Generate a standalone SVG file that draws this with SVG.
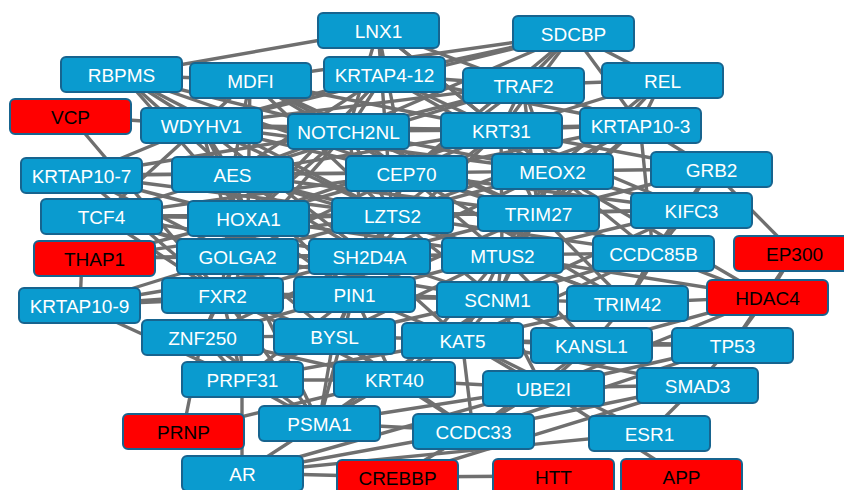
<svg xmlns="http://www.w3.org/2000/svg" width="844" height="490" viewBox="0 0 844 490">
<style>
#edges line{stroke:#6f6f6f;stroke-width:3.4;stroke-linecap:round}
.n rect{fill:#0a9bcf;stroke:#17648f;stroke-width:2}
.r rect{fill:#ff0000;stroke:#17648f;stroke-width:2}
.n text,.r text{font-family:"Liberation Sans",Arial,sans-serif;font-size:19px;text-anchor:middle}
.n text{fill:#ffffff}
.r text{fill:#000000}
</style>
<rect width="844" height="490" fill="#ffffff"/>
<g id="edges">
<line x1="378" y1="30" x2="122" y2="75"/><line x1="378" y1="30" x2="384" y2="75"/><line x1="378" y1="30" x2="348" y2="131"/><line x1="378" y1="30" x2="501" y2="130"/><line x1="378" y1="30" x2="406" y2="173"/><line x1="378" y1="30" x2="523" y2="85"/><line x1="378" y1="30" x2="392" y2="215"/><line x1="378" y1="30" x2="552" y2="171"/>
<line x1="573" y1="34" x2="384" y2="75"/><line x1="573" y1="34" x2="250" y2="80"/><line x1="573" y1="34" x2="523" y2="85"/><line x1="573" y1="34" x2="662" y2="80"/><line x1="573" y1="34" x2="640" y2="125"/><line x1="573" y1="34" x2="348" y2="131"/><line x1="573" y1="34" x2="201" y2="125"/><line x1="573" y1="34" x2="501" y2="130"/><line x1="573" y1="34" x2="406" y2="173"/>
<line x1="122" y1="75" x2="250" y2="80"/><line x1="122" y1="75" x2="201" y2="125"/><line x1="122" y1="75" x2="232" y2="174"/><line x1="122" y1="75" x2="348" y2="131"/><line x1="122" y1="75" x2="248" y2="218"/><line x1="122" y1="75" x2="392" y2="215"/><line x1="122" y1="75" x2="406" y2="173"/>
<line x1="70" y1="116" x2="201" y2="125"/><line x1="70" y1="116" x2="222" y2="295"/>
<line x1="250" y1="80" x2="201" y2="125"/><line x1="250" y1="80" x2="348" y2="131"/><line x1="250" y1="80" x2="232" y2="174"/><line x1="250" y1="80" x2="406" y2="173"/><line x1="250" y1="80" x2="392" y2="215"/><line x1="250" y1="80" x2="501" y2="130"/><line x1="250" y1="80" x2="538" y2="213"/><line x1="250" y1="80" x2="248" y2="218"/>
<line x1="384" y1="75" x2="201" y2="125"/><line x1="384" y1="75" x2="348" y2="131"/><line x1="384" y1="75" x2="501" y2="130"/><line x1="384" y1="75" x2="523" y2="85"/><line x1="384" y1="75" x2="232" y2="174"/><line x1="384" y1="75" x2="640" y2="125"/><line x1="384" y1="75" x2="248" y2="218"/><line x1="384" y1="75" x2="552" y2="171"/>
<line x1="523" y1="85" x2="662" y2="80"/><line x1="523" y1="85" x2="501" y2="130"/><line x1="523" y1="85" x2="348" y2="131"/><line x1="523" y1="85" x2="201" y2="125"/><line x1="523" y1="85" x2="406" y2="173"/><line x1="523" y1="85" x2="552" y2="171"/><line x1="523" y1="85" x2="538" y2="213"/><line x1="523" y1="85" x2="232" y2="174"/><line x1="523" y1="85" x2="640" y2="125"/>
<line x1="662" y1="80" x2="640" y2="125"/><line x1="662" y1="80" x2="501" y2="130"/><line x1="662" y1="80" x2="552" y2="171"/><line x1="662" y1="80" x2="538" y2="213"/>
<line x1="640" y1="125" x2="501" y2="130"/><line x1="640" y1="125" x2="711" y2="169"/><line x1="640" y1="125" x2="552" y2="171"/><line x1="640" y1="125" x2="538" y2="213"/><line x1="640" y1="125" x2="348" y2="131"/><line x1="640" y1="125" x2="406" y2="173"/><line x1="640" y1="125" x2="392" y2="215"/><line x1="640" y1="125" x2="653" y2="253"/><line x1="640" y1="125" x2="502" y2="255"/>
<line x1="711" y1="169" x2="794" y2="253"/><line x1="711" y1="169" x2="552" y2="171"/><line x1="711" y1="169" x2="538" y2="213"/><line x1="711" y1="169" x2="501" y2="130"/><line x1="711" y1="169" x2="653" y2="253"/><line x1="711" y1="169" x2="627" y2="303"/>
<line x1="691" y1="210" x2="552" y2="171"/><line x1="691" y1="210" x2="538" y2="213"/><line x1="691" y1="210" x2="653" y2="253"/><line x1="691" y1="210" x2="502" y2="255"/><line x1="691" y1="210" x2="501" y2="130"/><line x1="691" y1="210" x2="392" y2="215"/><line x1="691" y1="210" x2="406" y2="173"/><line x1="691" y1="210" x2="497" y2="299"/>
<line x1="794" y1="253" x2="767" y2="297"/><line x1="794" y1="253" x2="732" y2="345"/><line x1="767" y1="297" x2="732" y2="345"/><line x1="767" y1="297" x2="552" y2="171"/><line x1="767" y1="297" x2="502" y2="255"/><line x1="767" y1="297" x2="653" y2="253"/><line x1="767" y1="297" x2="627" y2="303"/><line x1="767" y1="297" x2="591" y2="345"/><line x1="767" y1="297" x2="543" y2="388"/>
<line x1="653" y1="253" x2="552" y2="171"/><line x1="653" y1="253" x2="538" y2="213"/><line x1="653" y1="253" x2="502" y2="255"/><line x1="653" y1="253" x2="497" y2="299"/><line x1="653" y1="253" x2="392" y2="215"/><line x1="653" y1="253" x2="406" y2="173"/><line x1="653" y1="253" x2="627" y2="303"/><line x1="653" y1="253" x2="462" y2="340"/>
<line x1="627" y1="303" x2="502" y2="255"/><line x1="627" y1="303" x2="497" y2="299"/><line x1="627" y1="303" x2="538" y2="213"/><line x1="627" y1="303" x2="591" y2="345"/><line x1="627" y1="303" x2="462" y2="340"/><line x1="627" y1="303" x2="392" y2="215"/><line x1="627" y1="303" x2="406" y2="173"/>
<line x1="732" y1="345" x2="591" y2="345"/><line x1="732" y1="345" x2="462" y2="340"/><line x1="732" y1="345" x2="543" y2="388"/><line x1="732" y1="345" x2="697" y2="385"/><line x1="732" y1="345" x2="473" y2="431"/>
<line x1="697" y1="385" x2="543" y2="388"/><line x1="697" y1="385" x2="649" y2="433"/><line x1="697" y1="385" x2="473" y2="431"/><line x1="697" y1="385" x2="462" y2="340"/><line x1="697" y1="385" x2="397" y2="477"/>
<line x1="543" y1="388" x2="681" y2="476"/><line x1="649" y1="433" x2="242" y2="473"/><line x1="649" y1="433" x2="462" y2="340"/>
<line x1="543" y1="388" x2="462" y2="340"/><line x1="543" y1="388" x2="591" y2="345"/><line x1="543" y1="388" x2="473" y2="431"/><line x1="543" y1="388" x2="394" y2="380"/><line x1="543" y1="388" x2="242" y2="473"/><line x1="543" y1="388" x2="497" y2="299"/><line x1="543" y1="388" x2="319" y2="423"/>
<line x1="591" y1="345" x2="462" y2="340"/><line x1="591" y1="345" x2="497" y2="299"/><line x1="591" y1="345" x2="502" y2="255"/><line x1="591" y1="345" x2="473" y2="431"/>
<line x1="473" y1="431" x2="394" y2="380"/><line x1="473" y1="431" x2="462" y2="340"/><line x1="473" y1="431" x2="319" y2="423"/><line x1="473" y1="431" x2="242" y2="473"/><line x1="473" y1="431" x2="397" y2="477"/><line x1="473" y1="431" x2="334" y2="336"/>
<line x1="397" y1="477" x2="553" y2="476"/><line x1="397" y1="477" x2="242" y2="473"/><line x1="242" y1="473" x2="319" y2="423"/><line x1="242" y1="380" x2="242" y2="473"/>
<line x1="183" y1="431" x2="202" y2="337"/><line x1="183" y1="431" x2="394" y2="380"/>
<line x1="319" y1="423" x2="242" y2="380"/><line x1="319" y1="423" x2="394" y2="380"/><line x1="319" y1="423" x2="334" y2="336"/><line x1="319" y1="423" x2="202" y2="337"/><line x1="319" y1="423" x2="462" y2="340"/><line x1="319" y1="423" x2="354" y2="294"/><line x1="319" y1="423" x2="222" y2="295"/><line x1="319" y1="423" x2="497" y2="299"/><line x1="319" y1="423" x2="237" y2="256"/>
<line x1="242" y1="380" x2="202" y2="337"/><line x1="242" y1="380" x2="334" y2="336"/><line x1="242" y1="380" x2="394" y2="380"/><line x1="242" y1="380" x2="222" y2="295"/><line x1="242" y1="380" x2="354" y2="294"/><line x1="242" y1="380" x2="237" y2="256"/><line x1="242" y1="380" x2="462" y2="340"/>
<line x1="394" y1="380" x2="334" y2="336"/><line x1="394" y1="380" x2="462" y2="340"/><line x1="394" y1="380" x2="202" y2="337"/><line x1="394" y1="380" x2="354" y2="294"/><line x1="394" y1="380" x2="497" y2="299"/><line x1="394" y1="380" x2="502" y2="255"/><line x1="394" y1="380" x2="222" y2="295"/>
<line x1="202" y1="337" x2="334" y2="336"/><line x1="202" y1="337" x2="222" y2="295"/><line x1="202" y1="337" x2="354" y2="294"/><line x1="202" y1="337" x2="237" y2="256"/><line x1="202" y1="337" x2="369" y2="256"/>
<line x1="334" y1="336" x2="354" y2="294"/><line x1="334" y1="336" x2="462" y2="340"/><line x1="334" y1="336" x2="497" y2="299"/><line x1="334" y1="336" x2="222" y2="295"/><line x1="334" y1="336" x2="369" y2="256"/><line x1="334" y1="336" x2="237" y2="256"/><line x1="334" y1="336" x2="502" y2="255"/>
<line x1="462" y1="340" x2="497" y2="299"/><line x1="462" y1="340" x2="354" y2="294"/><line x1="462" y1="340" x2="502" y2="255"/><line x1="462" y1="340" x2="369" y2="256"/>
<line x1="79" y1="305" x2="222" y2="295"/><line x1="79" y1="305" x2="354" y2="294"/><line x1="79" y1="305" x2="242" y2="380"/><line x1="79" y1="305" x2="369" y2="256"/><line x1="79" y1="305" x2="237" y2="256"/><line x1="82" y1="258" x2="80" y2="305"/>
<line x1="94" y1="258" x2="237" y2="256"/><line x1="94" y1="258" x2="369" y2="256"/><line x1="94" y1="258" x2="248" y2="218"/><line x1="94" y1="258" x2="392" y2="215"/>
<line x1="101" y1="216" x2="232" y2="174"/><line x1="101" y1="216" x2="248" y2="218"/><line x1="101" y1="216" x2="237" y2="256"/><line x1="101" y1="216" x2="392" y2="215"/><line x1="101" y1="216" x2="406" y2="173"/><line x1="101" y1="216" x2="222" y2="295"/><line x1="101" y1="216" x2="369" y2="256"/><line x1="101" y1="216" x2="354" y2="294"/><line x1="101" y1="216" x2="201" y2="125"/>
<line x1="81" y1="175" x2="232" y2="174"/><line x1="81" y1="175" x2="248" y2="218"/><line x1="81" y1="175" x2="201" y2="125"/><line x1="81" y1="175" x2="406" y2="173"/><line x1="81" y1="175" x2="237" y2="256"/><line x1="81" y1="175" x2="392" y2="215"/><line x1="81" y1="175" x2="348" y2="131"/><line x1="81" y1="175" x2="222" y2="295"/>
<line x1="201" y1="125" x2="232" y2="174"/><line x1="201" y1="125" x2="348" y2="131"/><line x1="201" y1="125" x2="248" y2="218"/><line x1="201" y1="125" x2="406" y2="173"/><line x1="201" y1="125" x2="392" y2="215"/><line x1="201" y1="125" x2="237" y2="256"/><line x1="201" y1="125" x2="501" y2="130"/><line x1="201" y1="125" x2="369" y2="256"/><line x1="201" y1="125" x2="552" y2="171"/>
<line x1="232" y1="174" x2="348" y2="131"/><line x1="232" y1="174" x2="406" y2="173"/><line x1="232" y1="174" x2="248" y2="218"/><line x1="232" y1="174" x2="392" y2="215"/><line x1="232" y1="174" x2="237" y2="256"/><line x1="232" y1="174" x2="369" y2="256"/><line x1="232" y1="174" x2="501" y2="130"/><line x1="232" y1="174" x2="502" y2="255"/><line x1="232" y1="174" x2="538" y2="213"/><line x1="232" y1="174" x2="354" y2="294"/><line x1="232" y1="174" x2="222" y2="295"/>
<line x1="348" y1="131" x2="501" y2="130"/><line x1="348" y1="131" x2="406" y2="173"/><line x1="348" y1="131" x2="392" y2="215"/><line x1="348" y1="131" x2="248" y2="218"/><line x1="348" y1="131" x2="552" y2="171"/><line x1="348" y1="131" x2="538" y2="213"/><line x1="348" y1="131" x2="369" y2="256"/><line x1="348" y1="131" x2="237" y2="256"/>
<line x1="501" y1="130" x2="406" y2="173"/><line x1="501" y1="130" x2="552" y2="171"/><line x1="501" y1="130" x2="392" y2="215"/><line x1="501" y1="130" x2="538" y2="213"/><line x1="501" y1="130" x2="502" y2="255"/><line x1="501" y1="130" x2="369" y2="256"/><line x1="501" y1="130" x2="248" y2="218"/>
<line x1="406" y1="173" x2="552" y2="171"/><line x1="406" y1="173" x2="392" y2="215"/><line x1="406" y1="173" x2="248" y2="218"/><line x1="406" y1="173" x2="538" y2="213"/><line x1="406" y1="173" x2="369" y2="256"/><line x1="406" y1="173" x2="502" y2="255"/><line x1="406" y1="173" x2="237" y2="256"/><line x1="406" y1="173" x2="354" y2="294"/>
<line x1="552" y1="171" x2="538" y2="213"/><line x1="552" y1="171" x2="392" y2="215"/><line x1="552" y1="171" x2="502" y2="255"/><line x1="552" y1="171" x2="497" y2="299"/><line x1="552" y1="171" x2="369" y2="256"/>
<line x1="248" y1="218" x2="392" y2="215"/><line x1="248" y1="218" x2="237" y2="256"/><line x1="248" y1="218" x2="369" y2="256"/><line x1="248" y1="218" x2="222" y2="295"/><line x1="248" y1="218" x2="354" y2="294"/><line x1="248" y1="218" x2="502" y2="255"/><line x1="248" y1="218" x2="538" y2="213"/>
<line x1="392" y1="215" x2="538" y2="213"/><line x1="392" y1="215" x2="369" y2="256"/><line x1="392" y1="215" x2="502" y2="255"/><line x1="392" y1="215" x2="237" y2="256"/><line x1="392" y1="215" x2="354" y2="294"/><line x1="392" y1="215" x2="497" y2="299"/>
<line x1="538" y1="213" x2="502" y2="255"/><line x1="538" y1="213" x2="369" y2="256"/><line x1="538" y1="213" x2="497" y2="299"/><line x1="538" y1="213" x2="354" y2="294"/>
<line x1="237" y1="256" x2="369" y2="256"/><line x1="237" y1="256" x2="222" y2="295"/><line x1="237" y1="256" x2="354" y2="294"/><line x1="237" y1="256" x2="502" y2="255"/><line x1="237" y1="256" x2="497" y2="299"/>
<line x1="369" y1="256" x2="502" y2="255"/><line x1="369" y1="256" x2="354" y2="294"/><line x1="369" y1="256" x2="497" y2="299"/><line x1="369" y1="256" x2="222" y2="295"/>
<line x1="502" y1="255" x2="497" y2="299"/><line x1="502" y1="255" x2="354" y2="294"/><line x1="222" y1="295" x2="354" y2="294"/><line x1="222" y1="295" x2="497" y2="299"/><line x1="354" y1="294" x2="497" y2="299"/>
</g>
<g id="LNX1" class="n" transform="translate(318,13)"><rect width="121" height="35" rx="5"/><text x="60.5" y="24.5">LNX1</text></g>
<g id="SDCBP" class="n" transform="translate(513,16)"><rect width="121" height="35" rx="5"/><text x="60.5" y="24.5">SDCBP</text></g>
<g id="RBPMS" class="n" transform="translate(61,57)"><rect width="121" height="35" rx="5"/><text x="60.5" y="24.5">RBPMS</text></g>
<g id="MDFI" class="n" transform="translate(190,63)"><rect width="121" height="35" rx="5"/><text x="60.5" y="24.5">MDFI</text></g>
<g id="KRTAP4-12" class="n" transform="translate(324,57)"><rect width="121" height="35" rx="5"/><text x="60.5" y="24.5">KRTAP4-12</text></g>
<g id="TRAF2" class="n" transform="translate(463,68)"><rect width="121" height="35" rx="5"/><text x="60.5" y="24.5">TRAF2</text></g>
<g id="REL" class="n" transform="translate(602,63)"><rect width="121" height="35" rx="5"/><text x="60.5" y="24.5">REL</text></g>
<g id="VCP" class="r" transform="translate(10,99)"><rect width="121" height="35" rx="5"/><text x="60.5" y="24.5">VCP</text></g>
<g id="WDYHV1" class="n" transform="translate(141,108)"><rect width="121" height="35" rx="5"/><text x="60.5" y="24.5">WDYHV1</text></g>
<g id="NOTCH2NL" class="n" transform="translate(288,114)"><rect width="121" height="35" rx="5"/><text x="60.5" y="24.5">NOTCH2NL</text></g>
<g id="KRT31" class="n" transform="translate(441,113)"><rect width="121" height="35" rx="5"/><text x="60.5" y="24.5">KRT31</text></g>
<g id="KRTAP10-3" class="n" transform="translate(580,108)"><rect width="121" height="35" rx="5"/><text x="60.5" y="24.5">KRTAP10-3</text></g>
<g id="KRTAP10-7" class="n" transform="translate(21,158)"><rect width="121" height="35" rx="5"/><text x="60.5" y="24.5">KRTAP10-7</text></g>
<g id="AES" class="n" transform="translate(172,157)"><rect width="121" height="35" rx="5"/><text x="60.5" y="24.5">AES</text></g>
<g id="CEP70" class="n" transform="translate(346,156)"><rect width="121" height="35" rx="5"/><text x="60.5" y="24.5">CEP70</text></g>
<g id="MEOX2" class="n" transform="translate(492,154)"><rect width="121" height="35" rx="5"/><text x="60.5" y="24.5">MEOX2</text></g>
<g id="GRB2" class="n" transform="translate(651,152)"><rect width="121" height="35" rx="5"/><text x="60.5" y="24.5">GRB2</text></g>
<g id="TCF4" class="n" transform="translate(41,199)"><rect width="121" height="35" rx="5"/><text x="60.5" y="24.5">TCF4</text></g>
<g id="HOXA1" class="n" transform="translate(188,201)"><rect width="121" height="35" rx="5"/><text x="60.5" y="24.5">HOXA1</text></g>
<g id="LZTS2" class="n" transform="translate(332,198)"><rect width="121" height="35" rx="5"/><text x="60.5" y="24.5">LZTS2</text></g>
<g id="TRIM27" class="n" transform="translate(478,196)"><rect width="121" height="35" rx="5"/><text x="60.5" y="24.5">TRIM27</text></g>
<g id="KIFC3" class="n" transform="translate(631,193)"><rect width="121" height="35" rx="5"/><text x="60.5" y="24.5">KIFC3</text></g>
<g id="THAP1" class="r" transform="translate(34,241)"><rect width="121" height="35" rx="5"/><text x="60.5" y="24.5">THAP1</text></g>
<g id="GOLGA2" class="n" transform="translate(177,239)"><rect width="121" height="35" rx="5"/><text x="60.5" y="24.5">GOLGA2</text></g>
<g id="SH2D4A" class="n" transform="translate(309,239)"><rect width="121" height="35" rx="5"/><text x="60.5" y="24.5">SH2D4A</text></g>
<g id="MTUS2" class="n" transform="translate(442,238)"><rect width="121" height="35" rx="5"/><text x="60.5" y="24.5">MTUS2</text></g>
<g id="CCDC85B" class="n" transform="translate(593,236)"><rect width="121" height="35" rx="5"/><text x="60.5" y="24.5">CCDC85B</text></g>
<g id="EP300" class="r" transform="translate(734,236)"><rect width="121" height="35" rx="5"/><text x="60.5" y="24.5">EP300</text></g>
<g id="KRTAP10-9" class="n" transform="translate(19,288)"><rect width="121" height="35" rx="5"/><text x="60.5" y="24.5">KRTAP10-9</text></g>
<g id="FXR2" class="n" transform="translate(162,278)"><rect width="121" height="35" rx="5"/><text x="60.5" y="24.5">FXR2</text></g>
<g id="PIN1" class="n" transform="translate(294,277)"><rect width="121" height="35" rx="5"/><text x="60.5" y="24.5">PIN1</text></g>
<g id="SCNM1" class="n" transform="translate(437,282)"><rect width="121" height="35" rx="5"/><text x="60.5" y="24.5">SCNM1</text></g>
<g id="TRIM42" class="n" transform="translate(567,286)"><rect width="121" height="35" rx="5"/><text x="60.5" y="24.5">TRIM42</text></g>
<g id="HDAC4" class="r" transform="translate(707,280)"><rect width="121" height="35" rx="5"/><text x="60.5" y="24.5">HDAC4</text></g>
<g id="ZNF250" class="n" transform="translate(142,320)"><rect width="121" height="35" rx="5"/><text x="60.5" y="24.5">ZNF250</text></g>
<g id="BYSL" class="n" transform="translate(274,319)"><rect width="121" height="35" rx="5"/><text x="60.5" y="24.5">BYSL</text></g>
<g id="KAT5" class="n" transform="translate(402,323)"><rect width="121" height="35" rx="5"/><text x="60.5" y="24.5">KAT5</text></g>
<g id="KANSL1" class="n" transform="translate(531,328)"><rect width="121" height="35" rx="5"/><text x="60.5" y="24.5">KANSL1</text></g>
<g id="TP53" class="n" transform="translate(672,328)"><rect width="121" height="35" rx="5"/><text x="60.5" y="24.5">TP53</text></g>
<g id="PRPF31" class="n" transform="translate(182,362)"><rect width="121" height="35" rx="5"/><text x="60.5" y="24.5">PRPF31</text></g>
<g id="KRT40" class="n" transform="translate(334,362)"><rect width="121" height="35" rx="5"/><text x="60.5" y="24.5">KRT40</text></g>
<g id="UBE2I" class="n" transform="translate(483,371)"><rect width="121" height="35" rx="5"/><text x="60.5" y="24.5">UBE2I</text></g>
<g id="SMAD3" class="n" transform="translate(637,368)"><rect width="121" height="35" rx="5"/><text x="60.5" y="24.5">SMAD3</text></g>
<g id="PRNP" class="r" transform="translate(123,414)"><rect width="121" height="35" rx="5"/><text x="60.5" y="24.5">PRNP</text></g>
<g id="PSMA1" class="n" transform="translate(259,406)"><rect width="121" height="35" rx="5"/><text x="60.5" y="24.5">PSMA1</text></g>
<g id="CCDC33" class="n" transform="translate(413,414)"><rect width="121" height="35" rx="5"/><text x="60.5" y="24.5">CCDC33</text></g>
<g id="ESR1" class="n" transform="translate(589,416)"><rect width="121" height="35" rx="5"/><text x="60.5" y="24.5">ESR1</text></g>
<g id="AR" class="n" transform="translate(182,456)"><rect width="121" height="35" rx="5"/><text x="60.5" y="24.5">AR</text></g>
<g id="CREBBP" class="r" transform="translate(337,460)"><rect width="121" height="35" rx="5"/><text x="60.5" y="24.5">CREBBP</text></g>
<g id="HTT" class="r" transform="translate(493,459)"><rect width="121" height="35" rx="5"/><text x="60.5" y="24.5">HTT</text></g>
<g id="APP" class="r" transform="translate(621,459)"><rect width="121" height="35" rx="5"/><text x="60.5" y="24.5">APP</text></g>
</svg>
